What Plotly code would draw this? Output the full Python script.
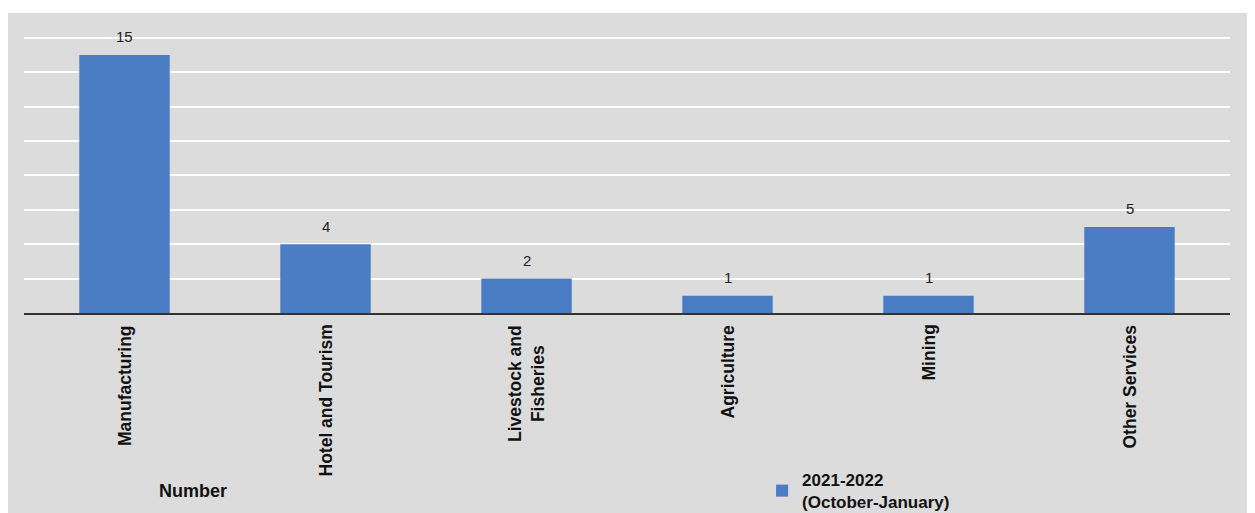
import plotly.graph_objects as go

categories = ["Manufacturing", "Hotel and Tourism", "Livestock and<br>Fisheries", "Agriculture", "Mining", "Other Services"]
values = [15, 4, 2, 1, 1, 5]
series_name = "2021-2022<br>(October-January)"
footer_label = "Number"

FONT = "Liberation Sans, Arial"

fig = go.Figure()
fig.add_trace(go.Bar(
    x=categories, y=values, name=series_name,
    marker=dict(color="#4a7dc4", line=dict(width=0)),
    width=0.45,
))

fig.update_layout(
    width=1255, height=535,
    margin=dict(l=16, r=33, t=28, b=230),
    paper_bgcolor="#dcdcdc", plot_bgcolor="#dcdcdc",
    font=dict(family=FONT, color="#111"),
    showlegend=True,
    legend=dict(x=0.612, y=-0.538, xanchor="left", yanchor="top",
                bgcolor="rgba(0,0,0,0)",
                font=dict(size=17, family=FONT, weight="bold", color="#111"),
                itemwidth=30, tracegroupgap=0),
    xaxis=dict(showgrid=False, showline=True, linecolor="#333", linewidth=2,
               showticklabels=False, ticks=""),
    yaxis=dict(range=[0, 16.1], tick0=0, dtick=2, showticklabels=False, gridcolor="#ffffff",
               gridwidth=1.5, zeroline=False, showline=False),
)

# value labels above bars
for c, v in zip(categories, values):
    fig.add_annotation(text=str(v), x=c, y=v, xref="x", yref="y", yanchor="middle",
                       yshift=18, showarrow=False,
                       font=dict(size=15, family=FONT, color="#222"))

# category labels, centred multi-line, rotated
for c in categories:
    fig.add_annotation(text=c, x=c, xref="x", y=0, yref="paper", yanchor="top", xanchor="center",
                       yshift=-10, textangle=-90, align="center", showarrow=False,
                       font=dict(size=17.5, family=FONT, weight="bold", color="#111"))

fig.add_shape(type="rect", xref="paper", yref="paper", x0=-0.05, x1=1.05, y0=1.083, y1=1.2,
              fillcolor="#ffffff", line=dict(width=0), layer="below")
fig.add_annotation(text=footer_label, xref="paper", yref="paper", x=0.1405, y=-0.644,
                   xanchor="center", yanchor="middle", showarrow=False,
                   font=dict(size=18, family=FONT, weight="bold", color="#111"))

fig.write_html("out.html")
